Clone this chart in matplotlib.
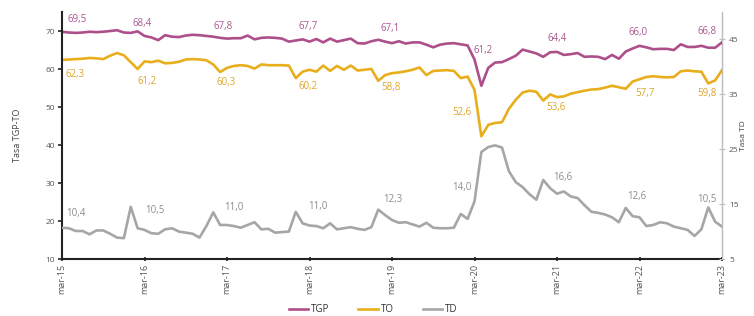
import matplotlib
matplotlib.use("Agg")
import matplotlib.pyplot as plt
import numpy as np

plt.rcParams['font.family'] = ['Open Sans', 'DejaVu Sans']

# ---------------- data ----------------
tick_labels = ["mar-15", "mar-16", "mar-17", "mar-18", "mar-19",
               "mar-20", "mar-21", "mar-22", "mar-23"]

tgp = [69.8, 69.6, 69.5, 69.6, 69.8, 69.7, 69.8, 70.0, 70.2, 69.6, 69.5, 69.9,
       68.7, 68.3, 67.6, 68.9, 68.5, 68.4, 68.8, 69.0, 68.9, 68.7, 68.5, 68.2,
       68.0, 68.1, 68.1, 68.8, 67.8, 68.2, 68.3, 68.2, 68.0, 67.2, 67.5, 67.8,
       67.2, 67.9, 67.0, 68.0, 67.2, 67.6, 68.0, 66.8, 66.7, 67.3, 67.7, 67.2,
       66.8, 67.3, 66.7, 67.0, 67.0, 66.4, 65.7, 66.4, 66.7, 66.8, 66.5, 66.2,
       62.5, 55.6, 60.3, 61.7, 61.8, 62.6, 63.5, 65.1, 64.6, 64.1, 63.2, 64.4,
       64.5, 63.7, 63.9, 64.2, 63.2, 63.3, 63.2, 62.6, 63.7, 62.7, 64.6, 65.4,
       66.1, 65.7, 65.2, 65.3, 65.3, 65.0, 66.5, 65.8, 65.8, 66.1, 65.6, 65.6,
       67.0]

to = [62.4, 62.5, 62.6, 62.7, 62.9, 62.8, 62.6, 63.5, 64.2, 63.6, 61.8, 60.0,
      62.0, 61.8, 62.2, 61.5, 61.6, 61.9, 62.5, 62.6, 62.5, 62.3, 61.2, 59.2,
      60.3, 60.8, 61.0, 60.8, 60.1, 61.2, 61.0, 61.0, 61.0, 60.9, 57.6, 59.3,
      59.8, 59.3, 60.9, 59.5, 60.8, 59.8, 60.9, 59.6, 59.8, 60.0, 56.9, 58.4,
      58.9, 59.1, 59.4, 59.8, 60.4, 58.4, 59.5, 59.6, 59.7, 59.5, 57.6, 58.0,
      54.5, 42.3, 45.3, 45.8, 46.0, 49.5, 51.9, 53.8, 54.3, 54.0, 51.7, 53.3,
      52.6, 52.8, 53.5, 53.9, 54.3, 54.6, 54.7, 55.1, 55.6, 55.2, 54.8, 56.7,
      57.3, 57.9, 58.1, 57.9, 57.8, 57.9, 59.4, 59.6, 59.4, 59.3, 56.2, 57.0,
      59.7]

td = [10.7, 10.6, 10.1, 10.1, 9.5, 10.2, 10.2, 9.6, 8.9, 8.8, 14.5, 10.6,
      10.3, 9.7, 9.6, 10.4, 10.6, 10.0, 9.8, 9.6, 8.9, 11.0, 13.5, 11.2,
      11.2, 11.0, 10.7, 11.2, 11.7, 10.4, 10.5, 9.8, 9.9, 10.0, 13.6, 11.5,
      11.1, 11.0, 10.6, 11.5, 10.4, 10.6, 10.8, 10.5, 10.3, 10.8, 14.0, 13.0,
      12.1, 11.6, 11.7, 11.3, 10.9, 11.6, 10.7, 10.6, 10.6, 10.7, 13.2, 12.3,
      15.5, 24.5, 25.4, 25.7, 25.3, 21.0, 19.0, 18.1, 16.8, 15.8, 19.4, 17.9,
      16.9, 17.3, 16.4, 16.1, 14.8, 13.6, 13.4, 13.1, 12.6, 11.7, 14.3, 12.8,
      12.6, 11.0, 11.2, 11.7, 11.5, 10.9, 10.6, 10.3, 9.2, 10.4, 14.4, 11.8,
      10.9]

tgp_labels = [69.5, 68.4, 67.8, 67.7, 67.1, 61.2, 64.4, 66.0, 66.8]
to_labels = [62.3, 61.2, 60.3, 60.2, 58.8, 52.6, 53.6, 57.7, 59.8]
td_labels = [10.4, 10.5, 11.0, 11.0, 12.3, 14.0, 16.6, 12.6, 10.5]

# ---------------- layout / style ----------------
c_tgp = "#AD4F8B"
c_to = "#E8AE1C"
c_td = "#A6A6A6"
c_tgp_t = "#A8588E"
c_to_t = "#DDA62A"
c_td_t = "#8E8E8E"

W, H = 754, 316
fig = plt.figure(figsize=(W / 100, H / 100), dpi=100)
ax = fig.add_axes([62 / W, 1 - 259 / H, (722 - 62) / W, (259 - 12) / H])
ax2 = ax.twinx()

x = np.arange(len(tgp))
l1, = ax.plot(x, tgp, color=c_tgp, lw=1.9, solid_joinstyle='round', label="TGP")
l2, = ax.plot(x, to, color=c_to, lw=1.9, solid_joinstyle='round', label="TO")
l3, = ax2.plot(x, td, color=c_td, lw=1.9, solid_joinstyle='round', label="TD")

ax.set_xlim(0, len(tgp) - 1)
ax.set_ylim(10, 75)
ax2.set_ylim(5, 50)
ax.set_yticks([10, 20, 30, 40, 50, 60, 70])
ax2.set_yticks([5, 15, 25, 35, 45])
ax.set_xticks(np.arange(0, len(tgp), 12))
ax.set_xticklabels(tick_labels, rotation=90)

for a in (ax, ax2):
    a.spines['top'].set_visible(False)
ax.spines['left'].set_linewidth(1.5)
ax.spines['bottom'].set_linewidth(1.5)
ax.spines['left'].set_color("#222222")
ax.spines['bottom'].set_color("#222222")
ax2.spines['left'].set_visible(False)
ax2.spines['bottom'].set_visible(False)
ax2.spines['right'].set_color("#BFBFBF")
ax2.spines['right'].set_linewidth(0.8)

ax.tick_params(axis='y', labelsize=6, colors="#222222", labelcolor="#555555",
               length=3, width=1.2, direction='out', pad=2)
ax.tick_params(axis='x', labelsize=6.5, colors="#222222", labelcolor="#555555",
               length=3, width=1.2, direction='inout', pad=2)
ax2.tick_params(axis='y', labelsize=6, colors="#BFBFBF", labelcolor="#555555",
                length=4, width=0.8, direction='inout', pad=3)

ax.set_ylabel("Tasa TGP-TO", fontsize=6.5, color="#444444", labelpad=17)
ax2.set_ylabel("Tasa TD", fontsize=6, color="#444444", labelpad=1)

# value labels (positions in data units of each axis)
lab_x = [2.2, 11.6, 23.4, 35.8, 47.7, 61.2, 72.0, 83.8, 93.8]
tgp_y = [72.9, 71.9, 71.1, 71.1, 70.6, 65.0, 67.9, 69.5, 70.0]
to_x = [1.9, 12.3, 23.9, 35.8, 47.8, 58.2, 71.8, 84.8, 93.8]
to_y = [58.5, 56.7, 56.4, 55.3, 55.1, 48.5, 49.8, 53.5, 53.5]
td_x = [2.0, 13.5, 25.0, 37.2, 48.1, 58.2, 72.9, 83.6, 93.8]
td_y = [13.2, 13.9, 14.3, 14.5, 15.9, 18.1, 19.8, 16.3, 15.9]

fmt = lambda v: f"{v:.1f}".replace('.', ',')
for xi, yi, v in zip(lab_x, tgp_y, tgp_labels):
    ax.text(xi, yi, fmt(v), color=c_tgp_t, fontsize=7, ha='center', va='center')
for xi, yi, v in zip(to_x, to_y, to_labels):
    ax.text(xi, yi, fmt(v), color=c_to_t, fontsize=7, ha='center', va='center')
for xi, yi, v in zip(td_x, td_y, td_labels):
    ax2.text(xi, yi, fmt(v), color=c_td_t, fontsize=7, ha='center', va='center')

fig.legend(handles=[l1, l2, l3], loc='lower center', ncol=3,
           bbox_to_anchor=(0.495, -0.025), frameon=False, fontsize=7,
           handlelength=2.0, handletextpad=0.3, columnspacing=3.0,
           labelcolor="#333333")

fig.savefig("out.png", dpi=100)
